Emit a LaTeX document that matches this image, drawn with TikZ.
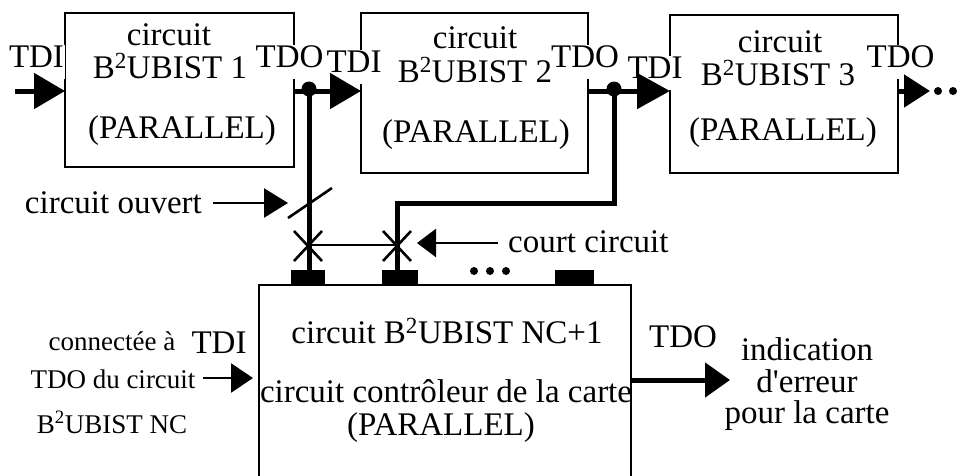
\documentclass[tikz,border=0pt]{standalone}
\usepackage{fontspec}
\setmainfont{Liberation Serif}
\usetikzlibrary{arrows.meta,calc}
\begin{document}
\begin{tikzpicture}[x=1pt,y=-1pt,
  boxline/.style={line width=2.2pt},
  bus/.style={line width=5pt},
  thinw/.style={line width=2.6pt},
  pad/.style={fill=black,draw=none,inner sep=0pt,minimum height=15pt},
  txt/.style={font=\fontsize{33}{36}\selectfont,inner sep=0pt,anchor=base},
  stxt/.style={font=\fontsize{27}{30}\selectfont,inner sep=0pt,anchor=base},
  port/.style={txt,fill=white,inner xsep=1.5pt,text depth=12pt},
  blk/.style={draw,boxline,inner sep=0pt,outer sep=0pt,anchor=north west}]
\useasboundingbox (0,0) rectangle (965,475);
% boxes
\node[blk,minimum width=229pt,minimum height=154pt] (b1) at (65,13) {};
\node[blk,minimum width=227pt,minimum height=160pt] (b2) at (361,13) {};
\node[blk,minimum width=228pt,minimum height=158pt] (b3) at (670,15) {};
\node[inner sep=0pt,outer sep=0pt,anchor=north west,minimum width=372pt,minimum height=200pt] (bb) at (259,285) {};
\draw[boxline] (bb.south west) -- (bb.north west) -- (bb.north east) -- (bb.south east);
% ports (drawn over box borders, under connectors)
\node[port] (pi1) at (36.5,67) {TDI};
\node[port] (po1) at (289.5,67) {TDO};
\node[port] (pi2) at (354,72) {TDI};
\node[port] (po2) at (585,67) {TDO};
\node[port] (pi3) at (655,78) {TDI};
\node[port] (po3) at (900.5,67) {TDO};
% pads
\node[pad,minimum width=34pt] (p1) at (308,277.5) {};
\node[pad,minimum width=36pt] (p2) at (400,277.5) {};
\node[pad,minimum width=39pt] (p3) at (574.5,277.5) {};
% coordinates
\coordinate (in1) at (15,91);
\coordinate (j1) at (309,91);
\coordinate (j2) at (614,91);
\coordinate (k2) at (614,203);
\coordinate (k1) at (397,203);
\coordinate (x1) at (308,246);
\coordinate (x2) at (397,246);
% top chain
\draw[bus,-{Triangle[length=31pt,width=35pt]}] (in1) -- (in1 -| b1.west);
\draw[bus] (j1 -| b1.east) -- (j1);
\draw[bus,-{Triangle[length=31pt,width=35pt]}] (j1) -- (j1 -| b2.west);
\draw[bus] (j2 -| b2.east) -- (j2);
\draw[bus,-{Triangle[length=33pt,width=35pt]}] (j2) -- (j2 -| b3.west);
\coordinate (o3) at (930,91);
\draw[bus,-{Triangle[length=26pt,width=32pt]}] (o3 -| b3.east) -- (o3);
\fill (938,91) circle (4pt) (953,91) circle (4pt);
% vertical connections
\draw[bus] (j1) -- (j1 |- p1.north);
\draw[bus] (p2.north -| k1) -- (k1) -- (k2) -- (j2);
\fill (309,89) circle (7.5pt);
\fill (614,89) circle (7.5pt);
% fault marks
\draw[thinw] (288,218) -- (332,188);
\draw[thinw] ($(x1)+(-14,-15)$) -- ($(x1)+(14,15)$);
\draw[thinw] ($(x1)+(-14,15)$) -- ($(x1)+(14,-15)$);
\draw[thinw] ($(x2)+(-14,-15)$) -- ($(x2)+(14,15)$);
\draw[thinw] ($(x2)+(-14,15)$) -- ($(x2)+(14,-15)$);
\draw[thinw] (x1) ++(0,-1) -- ($(x2)+(0,-1)$);
% label arrows
\coordinate (co) at (213,203);
\coordinate (cot) at (288,203);
\draw[thinw,-{Triangle[length=24pt,width=29pt]}] (co) -- (cot);
\coordinate (cc) at (498,243);
\coordinate (cct) at (417,243);
\draw[thinw,-{Triangle[length=19pt,width=28pt]}] (cc) -- (cct);
\coordinate (tin) at (203,378);
\draw[thinw,-{Triangle[length=22pt,width=29pt]},shorten >=6pt] (tin) -- (tin -| bb.west);
\coordinate (out) at (730,380);
\draw[bus,-{Triangle[length=25pt,width=34pt]}] (out -| bb.east) -- (out);
\fill (474,271) circle (4pt) (490,271) circle (4pt) (506,271) circle (4pt);
% texts in boxes
\node[txt] (t1a) at (169,45) {circuit};
\node[txt] (t1b) at (170,78) {B\textsuperscript{2}UBIST 1};
\node[txt] (t1c) at (182,138) {(PARALLEL)};
\node[txt] (t2a) at (475,48) {circuit};
\node[txt] (t2b) at (475,82) {B\textsuperscript{2}UBIST 2};
\node[txt] (t2c) at (476,142) {(PARALLEL)};
\node[txt] (t3a) at (780,52) {circuit};
\node[txt] (t3b) at (778,85) {B\textsuperscript{2}UBIST 3};
\node[txt] (t3c) at (783,140) {(PARALLEL)};
% bottom
\node[txt] (bt1) at (447,343) {circuit B\textsuperscript{2}UBIST NC+1};
\node[txt] (bt2) at (446,402) {circuit contrôleur de la carte};
\node[txt] (bt3) at (441,435) {(PARALLEL)};
\node[txt] (bti) at (219,353) {TDI};
\node[txt] (bto) at (683,347) {TDO};
\node[txt] (e1) at (807,360) {indication};
\node[txt] (e2) at (807,392) {d\textquotesingle erreur};
\node[txt] (e3) at (807,423) {pour la carte};
\node[stxt] (l1) at (112,350) {connectée à};
\node[stxt] (l2) at (113,388) {TDO du circuit};
\node[stxt] (l3) at (112,433) {B\textsuperscript{2}UBIST NC};
\node[txt,anchor=base west] (lcc) at (508,252) {court circuit};
\node[txt,anchor=base east] (lco) at (202,213) {circuit ouvert};
\end{tikzpicture}
\end{document}
